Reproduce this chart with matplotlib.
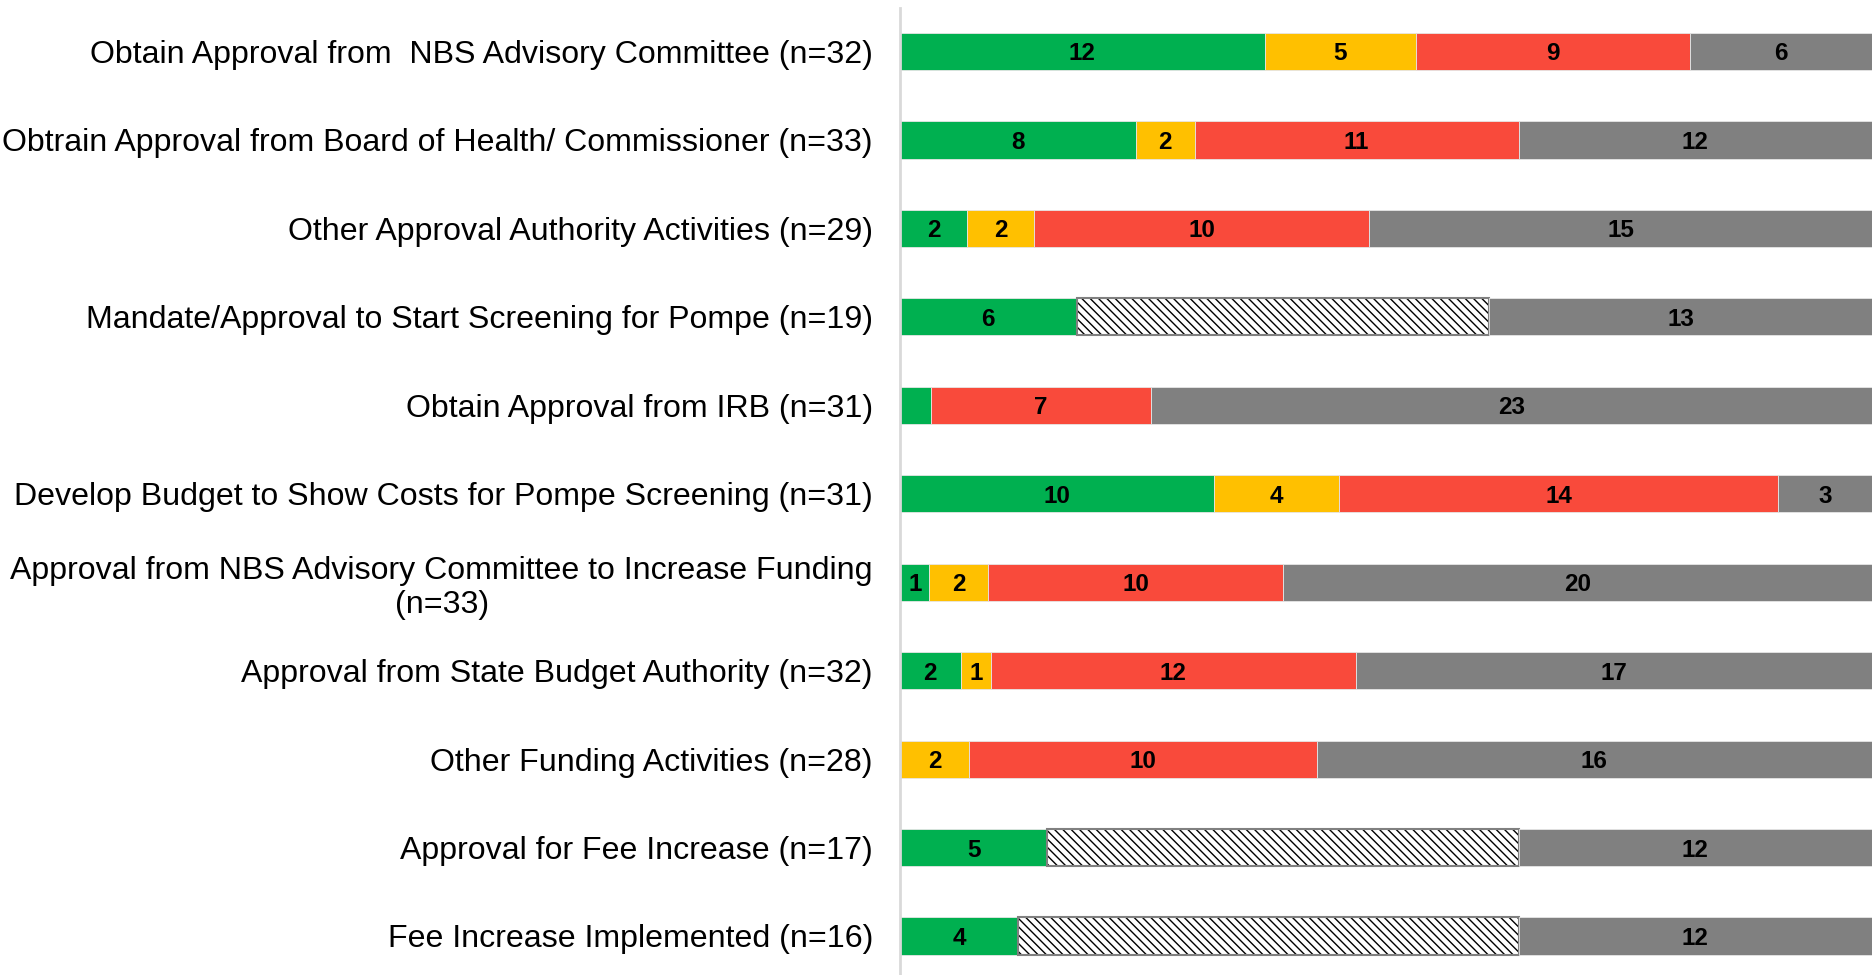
import matplotlib.pyplot as plt
import numpy as np

# Datos
actividades = [
    "Obtain Approval from  NBS Advisory Committee (n=32)",
    "Obtrain Approval from Board of Health/ Commissioner (n=33)",
    "Other Approval Authority Activities (n=29)",
    "Mandate/Approval to Start Screening for Pompe (n=19)",
    "Obtain Approval from IRB (n=31)",
    "Develop Budget to Show Costs for Pompe Screening (n=31)",
    "Approval from NBS Advisory Committee to Increase Funding\n(n=33)",
    "Approval from State Budget Authority (n=32)",
    "Other Funding Activities (n=28)",
    "Approval for Fee Increase (n=17)",
    "Fee Increase Implemented (n=16)",
]
verde = [12, 8, 2, 6, 1, 10, 1, 2, 0, 5, 4]
amarillo = [5, 2, 2, 0, 0, 4, 2, 1, 2, 0, 0]
rojo = [9, 11, 10, 0, 7, 14, 10, 12, 10, 0, 0]
no_aplica = [0, 0, 0, 14, 0, 0, 0, 0, 0, 16, 17]
gris = [6, 12, 15, 13, 23, 3, 20, 17, 16, 12, 12]
# etiquetas que no se muestran en la grafica original
ocultas = [(4, 0)]

colores = ['#00B050', '#FFC000', '#F94A3B', '#FFFFFF', '#808080']

plt.rcParams['font.family'] = ['Liberation Sans', 'DejaVu Sans']
plt.rcParams['hatch.linewidth'] = 1.0

series = np.array([verde, amarillo, rojo, no_aplica, gris], dtype=float)
totales = series.sum(axis=0)
pct = series / totales

fig = plt.figure(figsize=(18.72, 9.75), dpi=100)
ax = fig.add_axes([900 / 1872, 0, 1 - 900 / 1872, 967 / 975])

y = np.arange(len(actividades))
alto = 0.42
izq = np.zeros(len(actividades))
for i, (fila, color) in enumerate(zip(pct, colores)):
    if i == 3:
        ax.barh(y, fila, left=izq, height=alto, color='white', edgecolor='black',
                hatch='\\\\\\\\', linewidth=0)
        mask = fila > 0
        ax.barh(y[mask], fila[mask], left=izq[mask], height=alto, fill=False,
                edgecolor='#808080', linewidth=1.5)
    else:
        ax.barh(y, fila, left=izq, height=alto, color=color, edgecolor='#e6e6e6',
                linewidth=0.6)
        for j in range(len(actividades)):
            v = series[i, j]
            if v > 0 and (j, i) not in ocultas:
                ax.text(izq[j] + fila[j] / 2, y[j], f"{int(v)}", ha='center',
                        va='center_baseline', fontsize=17.5, fontweight='bold',
                        color='black')
    izq += fila

ax.set_xlim(0, 1)
ax.set_ylim(10 + 39 / 88.45, -43.5 / 88.45)
ax.set_xticks([])
ax.set_yticks(y)
ax.set_yticklabels(actividades, fontsize=23.1, multialignment='center')
ax.tick_params(axis='y', length=0, pad=19.5)
for s in ['top', 'right', 'bottom']:
    ax.spines[s].set_visible(False)
ax.spines['left'].set_color('#d9d9d9')
ax.spines['left'].set_linewidth(2)

fig.savefig('out.png', dpi=100)
